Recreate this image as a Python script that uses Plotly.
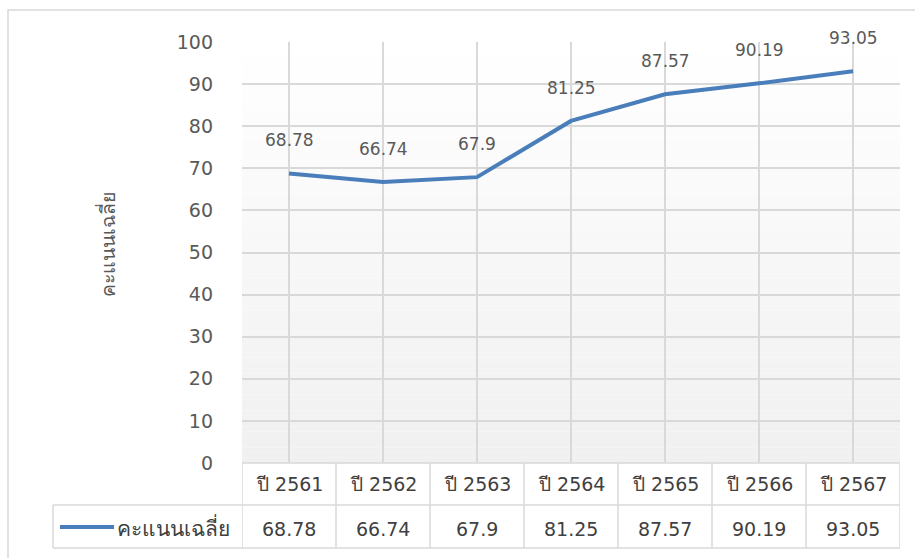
import plotly.graph_objects as go

# Average score per academic year
years = ["ปี 2561", "ปี 2562", "ปี 2563", "ปี 2564", "ปี 2565", "ปี 2566", "ปี 2567"]
scores = [68.78, 66.74, 67.9, 81.25, 87.57, 90.19, 93.05]
series_name = "คะแนนเฉลี่ย"
y_ticks = [0, 10, 20, 30, 40, 50, 60, 70, 80, 90, 100]

W, H = 915, 558
PL, PR, PT, PB = 242, 900, 42, 463  # plot area edges in pixels

LINE_COLOR = "#4a7ebb"
GRID = "#d9d9d9"
TEXT = "#595959"
TABLE_TEXT = "#404040"
FONT = "DejaVu Sans, Noto Sans, sans-serif"


def px_x(px):
    return (px - PL) / (PR - PL)


def px_y(py):
    return (PB - py) / (PB - PT)


fig = go.Figure()
fig.add_trace(go.Scatter(
    x=years, y=scores, mode="lines", name=series_name,
    line=dict(color=LINE_COLOR, width=4), hoverinfo="x+y",
))

shapes = []

# soft vertical gradient behind the plot area (white at top, light grey at bottom)
n_bands = 80
top_c, bot_c = (255, 255, 255), (240, 240, 240)
for i in range(n_bands):
    t = (i + 0.5) / n_bands
    c = tuple(round(bot_c[k] + (top_c[k] - bot_c[k]) * t) for k in range(3))
    shapes.append(dict(
        type="rect", xref="paper", yref="paper",
        x0=0, x1=1, y0=i / n_bands, y1=(i + 1) / n_bands,
        fillcolor="rgb(%d,%d,%d)" % c, line=dict(width=0), layer="below",
    ))

# outer chart border
shapes.append(dict(
    type="rect", xref="paper", yref="paper",
    x0=px_x(8), x1=px_x(W + 20), y0=px_y(10), y1=px_y(H + 20),
    line=dict(color=GRID, width=1.5), fillcolor="rgba(0,0,0,0)", layer="above",
))

# data table grid
row1_top, row1_bot, row2_bot = 463, 505, 548
legend_left = 53
n = len(years)
border = dict(color=GRID, width=1.5)
shapes.append(dict(type="line", xref="x", yref="paper", x0=-0.5, x1=n - 0.5,
                   y0=px_y(row1_top), y1=px_y(row1_top), line=border))
for yy in (row1_bot, row2_bot):
    shapes.append(dict(type="line", xref="paper", yref="paper",
                       x0=px_x(legend_left), x1=1, y0=px_y(yy), y1=px_y(yy), line=border))
for k in range(n + 1):
    shapes.append(dict(type="line", xref="x", yref="paper", x0=k - 0.5, x1=k - 0.5,
                       y0=px_y(row1_top), y1=px_y(row2_bot), line=border))
shapes.append(dict(type="line", xref="paper", yref="paper",
                   x0=px_x(legend_left), x1=px_x(legend_left),
                   y0=px_y(row1_bot), y1=px_y(row2_bot), line=border))

# legend key inside the table
shapes.append(dict(type="line", xref="paper", yref="paper",
                   x0=px_x(60), x1=px_x(114), y0=px_y(527), y1=px_y(527),
                   line=dict(color=LINE_COLOR, width=4)))

annotations = []

# value labels above each point
for yr, v in zip(years, scores):
    annotations.append(dict(
        x=yr, y=v, xref="x", yref="y", text=f"{v:g}", showarrow=False,
        yshift=33, font=dict(family=FONT, size=17, color=TEXT),
    ))

# table header (years) and values row
for yr, v in zip(years, scores):
    annotations.append(dict(
        x=yr, y=px_y(484), xref="x", yref="paper", text=yr, showarrow=False,
        font=dict(family=FONT, size=19, color=TABLE_TEXT), yanchor="middle",
    ))
    annotations.append(dict(
        x=yr, y=px_y(529), xref="x", yref="paper", text=f"{v:g}", showarrow=False,
        font=dict(family=FONT, size=19, color=TABLE_TEXT), yanchor="middle",
    ))

# legend label inside the table
annotations.append(dict(
    x=px_x(115), y=px_y(527), xref="paper", yref="paper", text=series_name,
    showarrow=False, xanchor="left", yanchor="middle",
    font=dict(family=FONT, size=21, color=TABLE_TEXT),
))

# y-axis title
annotations.append(dict(
    x=px_x(107), y=px_y(245), xref="paper", yref="paper", text=series_name,
    showarrow=False, textangle=-90, xanchor="center", yanchor="middle",
    font=dict(family=FONT, size=19.5, color=TEXT),
))

fig.update_layout(
    width=W, height=H,
    margin=dict(l=PL, r=W - PR, t=PT, b=H - PB, pad=0),
    paper_bgcolor="white", plot_bgcolor="rgba(0,0,0,0)",
    showlegend=False,
    shapes=shapes, annotations=annotations,
    font=dict(family=FONT, color=TEXT),
    xaxis=dict(
        type="category", range=[-0.5, n - 0.5], showgrid=True, gridcolor=GRID,
        gridwidth=1.5, showticklabels=False, zeroline=False, showline=False,
        ticks="", fixedrange=True,
    ),
    yaxis=dict(
        range=[0, 100], tickvals=y_ticks, showgrid=True, gridcolor=GRID,
        gridwidth=1.5, zeroline=False, showline=False, ticks="",
        tickfont=dict(family=FONT, size=19, color=TEXT),
        ticklabelstandoff=28, fixedrange=True,
    ),
)

fig.write_html("out.html")
